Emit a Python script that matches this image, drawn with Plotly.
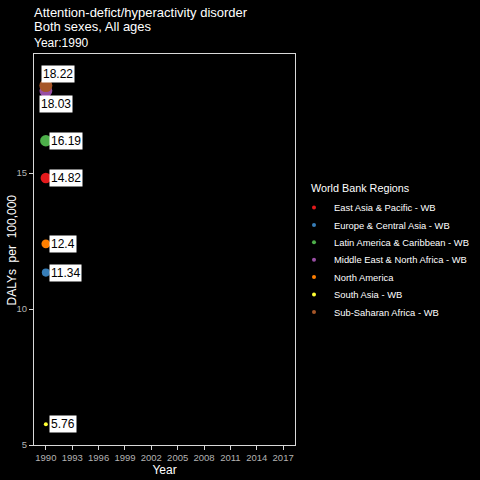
import plotly.graph_objects as go

regions = ["East Asia & Pacific - WB", "Europe & Central Asia - WB",
           "Latin America & Caribbean - WB", "Middle East & North Africa - WB",
           "North America", "South Asia - WB", "Sub-Saharan Africa - WB"]
values = [14.82, 11.34, 16.19, 18.03, 12.4, 5.76, 18.22]
labels = ["14.82", "11.34", "16.19", "18.03", "12.4", "5.76", "18.22"]
colors = ["#E41A1C", "#377EB8", "#4DAF4A", "#984EA3", "#FF7F00", "#FFFF33", "#A65628"]
year = 1990
xticks = [1990, 1993, 1996, 1999, 2002, 2005, 2008, 2011, 2014, 2017]
yticks = [5, 10, 15]

# label repel offsets (pixels) for overlapping labels
shift = {"Middle East & North Africa - WB": (-7, -13),
         "Sub-Saharan Africa - WB": (-5, 12)}

FONT = "Liberation Sans, Arial, sans-serif"
fig = go.Figure()

vmin, vmax = min(values), max(values)
for r, v, c in zip(regions, values, colors):
    size = 4 + (v - vmin) / (vmax - vmin) * 9
    fig.add_trace(go.Scatter(x=[year], y=[v], mode="markers",
                             marker=dict(color=c, size=size, line=dict(width=0)),
                             showlegend=False, hoverinfo="skip"))

legend_layouts = {}
for i, (r, c) in enumerate(zip(regions, colors)):
    lname = "legend" if i == 0 else f"legend{i + 1}"
    fig.add_trace(go.Scatter(x=[None], y=[None], mode="markers", name=r, legend=lname,
                             marker=dict(color=c, size=4, line=dict(width=0))))
    legend_layouts[lname] = dict(xref="container", yref="container", x=0.6125,
                                 y=1 - (193 + 17.4 * i) / 480,
                                 xanchor="left", yanchor="top", bgcolor="rgba(0,0,0,0)",
                                 font=dict(family=FONT, size=9.4, color="white"),
                                 itemwidth=30)

for r, v, t in zip(regions, values, labels):
    xs, ys = shift.get(r, (3, 0))
    fig.add_annotation(x=year, y=v, text=t, showarrow=False, xanchor="left",
                       yanchor="middle", xshift=xs, yshift=ys, bgcolor="white",
                       borderpad=1, font=dict(family=FONT, size=12, color="black"))

for txt, ysh, fs in [("Attention-defict/hyperactivity disorder", 42, 13),
                     ("Both sexes, All ages", 28, 13),
                     ("Year:1990", 11, 12)]:
    fig.add_annotation(xref="paper", yref="paper", x=0, y=1, xanchor="left", yanchor="middle",
                       xshift=-2, yshift=ysh, text=txt, showarrow=False,
                       font=dict(family=FONT, size=fs, color="white"))

fig.add_annotation(xref="paper", yref="paper", x=1, y=1, xanchor="left", yanchor="middle",
                   xshift=14, yshift=-(188 - 54), text="World Bank Regions", showarrow=False,
                   font=dict(family=FONT, size=10.8, color="white"))

fig.add_annotation(xref="paper", yref="paper", x=0, y=0.5, xanchor="center", yanchor="middle",
                   xshift=-23, yshift=-1, textangle=-90, text="DALYs  per  100,000",
                   showarrow=False, font=dict(family=FONT, size=12, color="white"))

axis_common = dict(showgrid=False, zeroline=False, showline=True, mirror=True,
                   linecolor="#d9d9d9", linewidth=1, ticks="outside", ticklen=4,
                   tickcolor="#d9d9d9", automargin=False,
                   tickfont=dict(family=FONT, size=9.5, color="#b3b3b3"))
fig.update_xaxes(range=[1988.65, 2018.35], tickvals=xticks,
                 title=dict(text="Year", font=dict(family=FONT, size=12, color="white"), standoff=2),
                 **axis_common)
fig.update_yaxes(range=[5, 19.38], tickvals=yticks, **axis_common)

fig.update_layout(width=480, height=480, paper_bgcolor="black", plot_bgcolor="black",
                  margin=dict(l=34, r=185, t=54, b=35, autoexpand=False),
                  **legend_layouts)

fig.write_html("out.html")
